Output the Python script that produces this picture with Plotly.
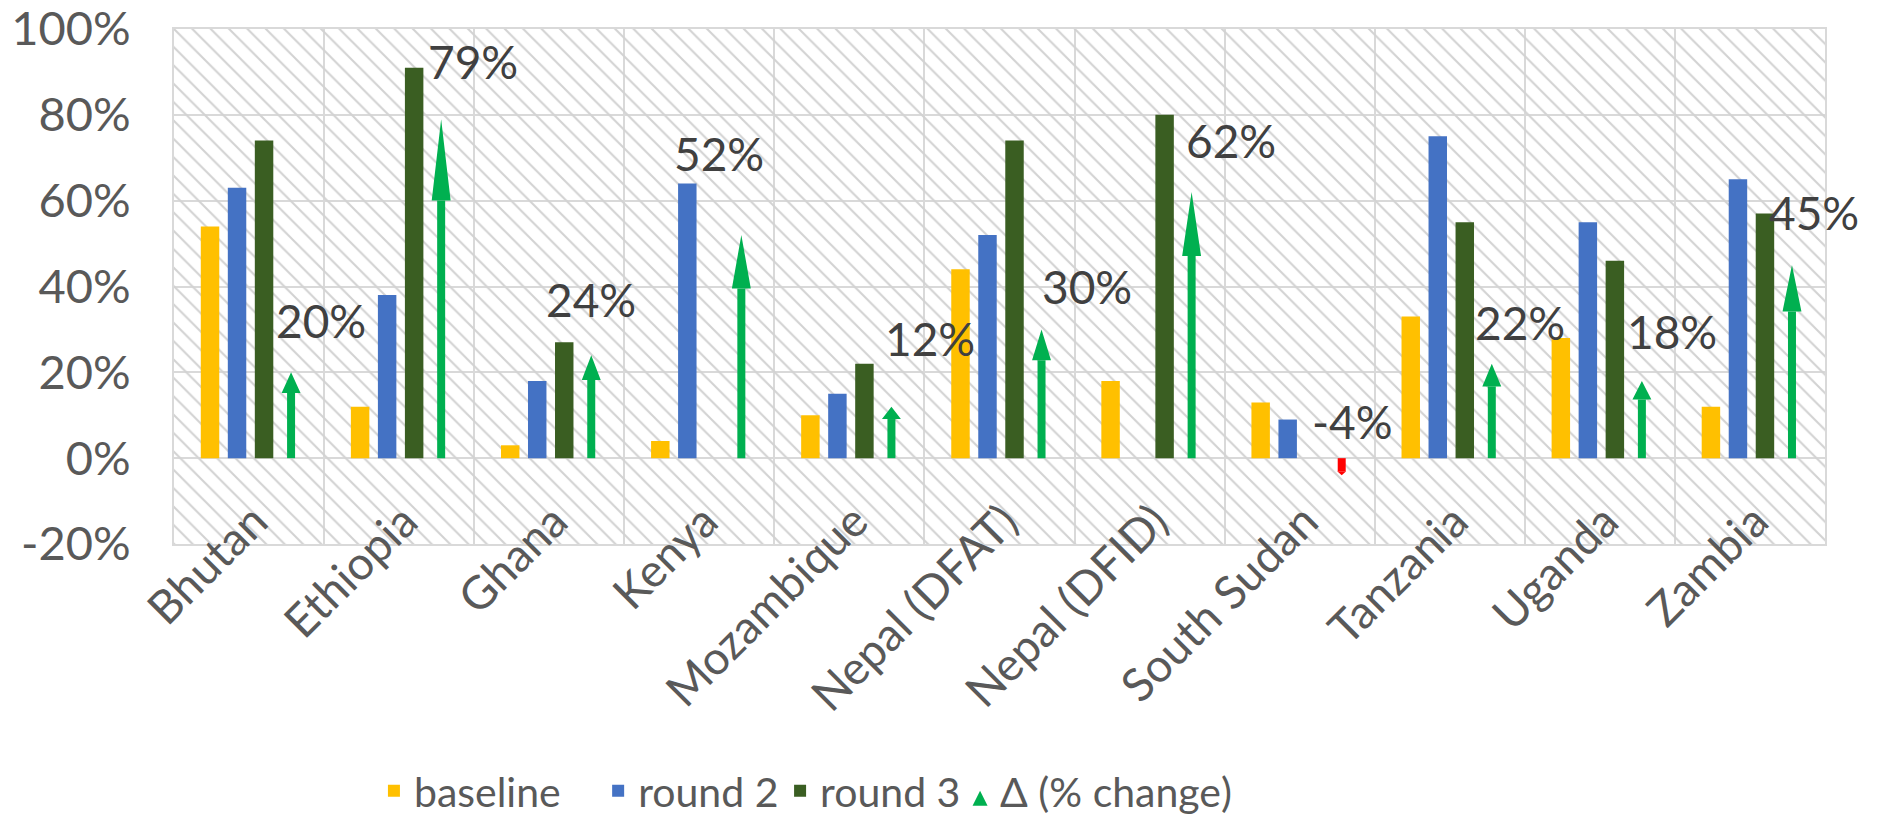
import plotly.graph_objects as go

categories = ["Bhutan", "Ethiopia", "Ghana", "Kenya", "Mozambique", "Nepal (DFAT)",
              "Nepal (DFID)", "South Sudan", "Tanzania", "Uganda", "Zambia"]
baseline = [54, 12, 3, 4, 10, 44, 18, 13, 33, 28, 12]
round2 = [63, 38, 18, 64, 15, 52, None, 9, 75, 55, 65]
round3 = [74, 91, 27, None, 22, 74, 80, None, 55, 46, 57]
delta = [20, 79, 24, 52, 12, 30, 62, -4, 22, 18, 45]
y_ticks = [-20, 0, 20, 40, 60, 80, 100]

# label placement (category units relative to arrow, and value position)
label_dx = [0.20, 0.21, 0.0, -0.15, 0.26, 0.30, 0.26, 0.07, 0.19, 0.20, 0.15]
label_y = [32, 92.4, 37, 71, 28, 40, 74, 8.6, 31.7, 29.6, 57.3]

# legend entry positions (paper x)
legend_x = [0.1211, 0.2569, 0.3671, 0.4761]

FONT = "Lato, 'Open Sans', sans-serif"
TXT = "#595959"
GRID = "#d9d9d9"

idx = list(range(len(categories)))
n = len(categories)

fig = go.Figure()

# hatched plot background (drawn first so bars sit on top)
fig.add_trace(go.Bar(
    x=[(n - 1) / 2], y=[y_ticks[-1] - y_ticks[0]], base=[y_ticks[0]], width=[n],
    marker=dict(color="rgba(0,0,0,0)", line=dict(width=0),
                pattern=dict(shape="\\", fgcolor="#d2d2d2", bgcolor="rgba(0,0,0,0)",
                             size=13, solidity=0.16, fillmode="replace")),
    hoverinfo="skip", showlegend=False))

bw = 0.123
series = [("baseline", baseline, "#FFC000", -0.26, "legend"),
          ("round 2", round2, "#4472C4", -0.08, "legend2"),
          ("round 3", round3, "#3A5E22", 0.10, "legend3")]
for name, vals, col, off, lg in series:
    fig.add_trace(go.Bar(x=idx, y=vals, width=bw, offset=off - bw / 2, name=name,
                         legend=lg, marker=dict(color=col, line=dict(width=0))))

# arrows for delta
arrow_off = 0.28
head_half = 0.063
for sign, col in [(1, "#00B050"), (-1, "#FF0000")]:
    sx, sy, hx, hy = [], [], [], []
    for i, d in zip(idx, delta):
        if (d > 0) != (sign > 0):
            continue
        x = i + arrow_off
        hl = 0.24 * d
        base = d - hl
        sx += [x, x, None]
        sy += [0, base, None]
        hh = head_half if abs(d) > 8 else 0.03
        hx += [x - hh, x + hh, x, x - hh, None]
        hy += [base, base, d, base, None]
    fig.add_trace(go.Scatter(x=sx, y=sy, mode="lines", line=dict(color=col, width=8),
                             hoverinfo="skip", showlegend=False))
    fig.add_trace(go.Scatter(x=hx, y=hy, mode="lines", line=dict(color=col, width=0),
                             fill="toself", fillcolor=col, hoverinfo="skip", showlegend=False))

# legend entry for delta
fig.add_trace(go.Scatter(x=[None], y=[None], mode="markers", name="Δ (% change)",
                         legend="legend4",
                         marker=dict(symbol="arrow-up", color="#00B050", size=15)))

for i, d in zip(idx, delta):
    fig.add_annotation(x=i + arrow_off + label_dx[i], y=label_y[i], text=f"{d}%",
                       showarrow=False, xanchor="center", yanchor="middle",
                       font=dict(family=FONT, size=46, color="#404040"))

legend_common = dict(orientation="h", xanchor="left", y=-0.48, yanchor="middle",
                     bgcolor="rgba(0,0,0,0)",
                     font=dict(family=FONT, size=41, color=TXT))

fig.update_layout(
    width=1881, height=822,
    margin=dict(l=174, r=56, t=29, b=278, autoexpand=False),
    paper_bgcolor="white", plot_bgcolor="white",
    barmode="overlay",
    font=dict(family=FONT, color=TXT),
    legend=dict(x=legend_x[0], **legend_common),
    legend2=dict(x=legend_x[1], **legend_common),
    legend3=dict(x=legend_x[2], **legend_common),
    legend4=dict(x=legend_x[3], **legend_common),
    xaxis=dict(range=[-0.5, n - 0.5], tickmode="array", tickvals=idx, ticktext=categories,
               tickangle=-45, showgrid=False, zeroline=False, automargin=False,
               showline=True, linecolor=GRID, linewidth=2, mirror=True,
               ticklabelstandoff=-70, ticklabelshift=5, ticklabeloverflow="allow",
               tickfont=dict(family=FONT, size=46, color=TXT),
               minor=dict(tickmode="array", tickvals=[i + 0.5 for i in idx[:-1]],
                          showgrid=True, gridcolor=GRID, gridwidth=2, ticks="")),
    yaxis=dict(range=[y_ticks[0], y_ticks[-1]], tickmode="array", tickvals=y_ticks,
               ticktext=[f"{v}%" for v in y_ticks], automargin=False,
               showgrid=True, gridcolor=GRID, gridwidth=2,
               zeroline=True, zerolinecolor=GRID, zerolinewidth=2,
               showline=True, linecolor=GRID, linewidth=2, mirror=True,
               ticklabelstandoff=32, ticklabeloverflow="allow",
               tickfont=dict(family=FONT, size=47, color=TXT)),
)

fig.write_html("out.html", config={"displayModeBar": False},
               post_script="document.body.style.margin='0';document.body.style.overflow='hidden';")
